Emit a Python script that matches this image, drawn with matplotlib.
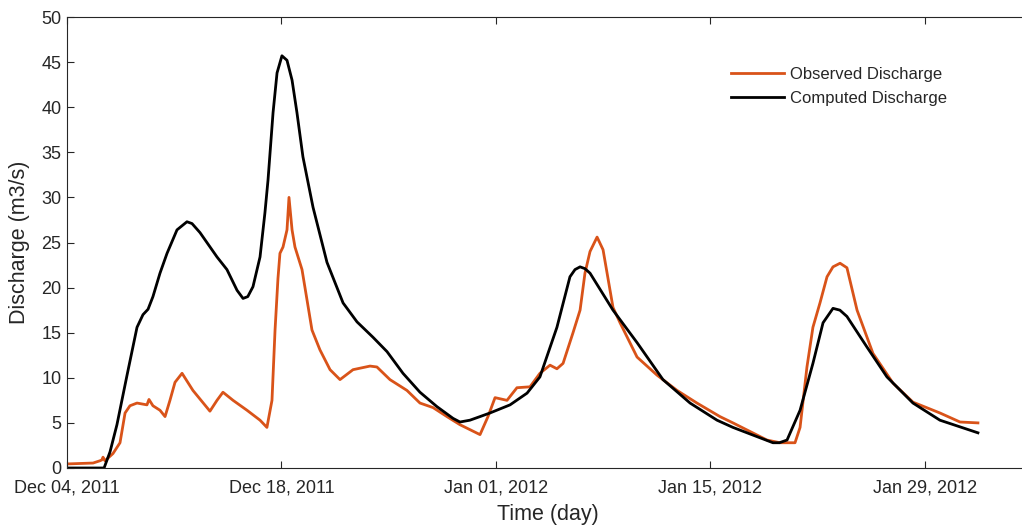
import datetime as dt
import matplotlib
matplotlib.use("Agg")
import matplotlib.pyplot as plt
import matplotlib.dates as mdates

# ---- data (days since 2011-12-04 00:00, discharge in m3/s) ----
start_date = dt.datetime(2011, 12, 4)

obs_day = [0.00, 0.85, 1.70, 2.15, 2.28, 2.35, 2.48, 3.00, 3.46, 3.79, 4.11, 4.57,
           5.22, 5.35, 5.61, 6.07, 6.40, 6.72, 7.05, 7.51, 8.22, 9.33, 9.79, 10.18,
           10.84, 11.75, 12.60, 13.05, 13.38, 13.58, 13.77, 13.90, 14.10, 14.36, 14.49,
           14.69, 14.88, 15.34, 15.67, 15.99, 16.51, 17.17, 17.82, 18.67, 19.78, 20.23,
           21.08, 22.19, 23.04, 23.89, 24.80, 25.65, 26.96, 27.48, 27.94, 28.72, 29.37,
           30.22, 30.87, 31.53, 31.98, 32.38, 33.03, 33.49, 33.81, 34.14, 34.60, 34.99,
           35.64, 36.10, 37.21, 38.51, 39.82, 41.12, 42.62, 43.47, 45.69, 46.54, 47.52,
           47.85, 48.30, 48.69, 49.15, 49.61, 50.00, 50.46, 50.91, 51.57, 52.61, 53.92,
           55.22, 56.98, 58.29, 59.46]
obs_q = [0.45, 0.5, 0.55, 0.8, 0.9, 1.2, 0.8, 1.6, 2.8, 6.1, 6.9, 7.2,
         7.0, 7.6, 6.9, 6.4, 5.7, 7.5, 9.5, 10.5, 8.6, 6.3, 7.5, 8.4,
         7.5, 6.4, 5.3, 4.5, 7.5, 15.3, 21.0, 23.8, 24.5, 26.4, 30.0,
         26.4, 24.5, 22.0, 18.6, 15.3, 13.1, 10.9, 9.8, 10.9, 11.3, 11.2,
         9.8, 8.6, 7.2, 6.7, 5.7, 4.8, 3.7, 5.7, 7.8, 7.5, 8.9,
         9.0, 10.5, 11.4, 11.0, 11.6, 15.0, 17.5, 21.6, 24.0, 25.6, 24.2,
         17.8, 16.1, 12.3, 10.3, 8.6, 7.2, 5.7, 5.0, 3.1, 2.8, 2.8,
         4.5, 11.2, 15.6, 18.3, 21.2, 22.3, 22.7, 22.2, 17.5, 12.7, 9.4,
         7.3, 6.1, 5.1, 5.0]

comp_day = [0.00, 2.42, 2.81, 3.26, 3.92, 4.57, 4.96, 5.29, 5.61, 6.07, 6.53, 7.18,
            7.83, 8.16, 8.68, 9.79, 10.44, 11.10, 11.49, 11.80, 12.14, 12.60, 12.92,
            13.12, 13.45, 13.71, 14.03, 14.36, 14.69, 15.01, 15.40, 16.06, 16.97, 18.02,
            18.93, 19.97, 20.89, 21.93, 23.04, 24.15, 25.20, 25.65, 26.30, 26.96, 27.61,
            28.92, 30.03, 30.87, 31.98, 32.83, 33.16, 33.49, 33.81, 34.14, 35.64, 37.21,
            38.90, 40.67, 42.43, 43.47, 46.08, 46.50, 47.00, 47.85, 48.69, 49.35, 50.00,
            50.45, 50.91, 52.22, 53.52, 55.22, 56.98, 59.46]
comp_q = [0.0, 0.0, 1.8, 4.8, 10.3, 15.6, 17.0, 17.6, 19.0, 21.6, 23.8, 26.4,
          27.3, 27.1, 26.1, 23.4, 22.0, 19.7, 18.8, 19.0, 20.1, 23.4, 28.3,
          31.9, 39.4, 43.8, 45.7, 45.2, 43.0, 39.4, 34.5, 28.9, 22.8, 18.3,
          16.2, 14.5, 12.9, 10.5, 8.4, 6.8, 5.5, 5.1, 5.3, 5.7, 6.1,
          7.0, 8.3, 10.1, 15.6, 21.2, 22.0, 22.3, 22.1, 21.6, 17.5, 13.9,
          9.8, 7.2, 5.3, 4.5, 2.8, 2.8, 3.1, 6.4, 11.6, 16.1, 17.7,
          17.5, 16.8, 13.4, 10.1, 7.2, 5.3, 3.9]

tick_days = [0, 14, 28, 42, 56]
tick_labels = ["Dec 04, 2011", "Dec 18, 2011", "Jan 01, 2012", "Jan 15, 2012", "Jan 29, 2012"]
y_ticks = [0, 5, 10, 15, 20, 25, 30, 35, 40, 45, 50]

series_names = ["Observed Discharge", "Computed Discharge"]
series_colors = ["#D95319", "#000000"]

# ---- plotting ----
plt.rcParams['font.family'] = ['Liberation Sans', 'DejaVu Sans']
W, H = 1022, 526
fig = plt.figure(figsize=(W / 100, H / 100), dpi=100)
ax = fig.add_axes([67 / W, 1 - 468 / H, (1029 - 67) / W, (468 - 17) / H])

base = mdates.date2num(start_date)
ox = [base + d for d in obs_day]
cx = [base + d for d in comp_day]

ax.plot(ox, obs_q, color=series_colors[0], lw=2.0, label=series_names[0],
        solid_joinstyle='round')
ax.plot(cx, comp_q, color=series_colors[1], lw=2.0, label=series_names[1],
        solid_joinstyle='round')

ax.set_xlim(base, base + (1029 - 67) / 15.32)
ax.set_ylim(0, 50)
ax.set_xticks([base + d for d in tick_days])
ax.set_xticklabels(tick_labels)
ax.set_yticks(y_ticks)

axcol = '#262626'
for s in ['left', 'bottom', 'top']:
    ax.spines[s].set_color(axcol)
    ax.spines[s].set_linewidth(0.8)
ax.spines['right'].set_visible(False)
ax.tick_params(axis='both', direction='in', length=5, width=0.8, color=axcol,
               labelcolor=axcol, labelsize=13, top=True, right=False)
ax.tick_params(axis='x', pad=8)
ax.tick_params(axis='y', pad=4)

ax.set_ylabel("Discharge (m3/s)", fontsize=15.5, color=axcol, labelpad=8)
ax.set_xlabel("Time (day)", fontsize=15.5, color=axcol, labelpad=6)

leg = fig.legend(loc='upper left', bbox_to_anchor=(731 / W, 1 - 67 / H),
                 frameon=False, fontsize=12, handlelength=3.2, handletextpad=0.35,
                 borderpad=0, borderaxespad=0, labelspacing=0.55)
for t in leg.get_texts():
    t.set_color(axcol)

fig.savefig("out.png", dpi=100)
